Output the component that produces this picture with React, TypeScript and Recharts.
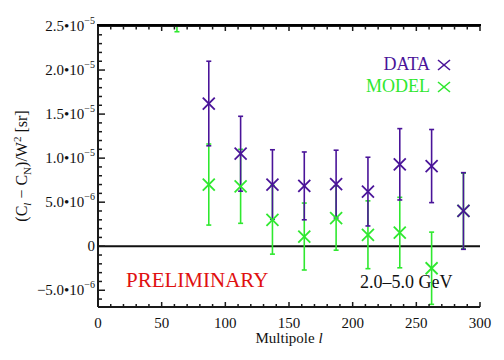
import React from "react";
import {
  ComposedChart,
  Scatter,
  ErrorBar,
  XAxis,
  YAxis,
  ReferenceLine,
  Customized,
} from "recharts";

// Values in units of 1e-6 sr
const DATA_L = [87, 112, 137, 162, 187, 212, 237, 262, 287];
const DATA_VALUES = [16.2, 10.5, 7.0, 6.85, 7.05, 6.2, 9.3, 9.1, 4.0];
const DATA_ERRORS = [4.8, 4.25, 3.95, 3.85, 3.85, 3.9, 4.05, 4.15, 4.35];

const MODEL_L = [62, 87, 112, 137, 162, 187, 212, 237, 262, 287];
const MODEL_VALUES = [29.0, 7.0, 6.8, 3.0, 1.1, 3.2, 1.3, 1.55, -2.5, 4.0];
const MODEL_ERRORS = [4.65, 4.6, 4.2, 3.9, 3.8, 3.65, 3.85, 4.0, 4.1, 4.3];

const X_TICKS = [
  0, 10, 20, 30, 40, 50, 60, 70, 80, 90, 100, 110, 120, 130, 140, 150, 160,
  170, 180, 190, 200, 210, 220, 230, 240, 250, 260, 270, 280, 290, 300,
];
const X_MAJOR = [0, 50, 100, 150, 200, 250, 300];
const X_LABELS = ["0", "50", "100", "150", "200", "250", "300"];

const Y_TICKS = [
  -6, -5, -4, -3, -2, -1, 0, 1, 2, 3, 4, 5, 6, 7, 8, 9, 10, 11, 12, 13, 14,
  15, 16, 17, 18, 19, 20, 21, 22, 23, 24, 25,
];
const Y_MAJOR = [-5, 0, 5, 10, 15, 20, 25];
const Y_MANTISSA = ["\u22125.0", "0", "5.0", "1.0", "1.5", "2.0", "2.5"];
const Y_EXPONENT = ["\u22126", "", "\u22126", "\u22125", "\u22125", "\u22125", "\u22125"];

const DATA_COLOR = "#4a1499";
const MODEL_COLOR = "#2fe82f";
const FONT = "'Liberation Serif', 'Times New Roman', serif";
const AXIS = "#1a1a1a";

const dataRows = DATA_L.map((l, i) => ({ l, v: DATA_VALUES[i], e: DATA_ERRORS[i] }));
const modelRows = MODEL_L.map((l, i) => ({ l, v: MODEL_VALUES[i], e: MODEL_ERRORS[i] }));

const Cross = (color: string) => (props: any) => {
  const { cx, cy } = props;
  if (cx == null || cy == null) return <g />;
  const h = 6;
  return (
    <g>
      <line x1={cx - h} y1={cy - h} x2={cx + h} y2={cy + h} stroke={color} strokeWidth={1.8} />
      <line x1={cx - h} y1={cy + h} x2={cx + h} y2={cy - h} stroke={color} strokeWidth={1.8} />
    </g>
  );
};

const LeftTick = (props: any) => {
  const { x, y, payload } = props;
  const v = payload.value;
  const idx = Y_MAJOR.indexOf(v);
  const major = idx >= 0;
  return (
    <g>
      <line x1={x} x2={x + (major ? 7 : 4)} y1={y} y2={y} stroke={AXIS} strokeWidth={1.5} />
      {major && (
        <text x={x - 3} y={y + 5} textAnchor="end" fontFamily={FONT} fontSize={15} fill="#111">
          {Y_MANTISSA[idx]}
          {Y_EXPONENT[idx] !== "" && "\u202210"}
          {Y_EXPONENT[idx] !== "" && (
            <tspan dy={-7} fontSize={10}>
              {Y_EXPONENT[idx]}
            </tspan>
          )}
        </text>
      )}
    </g>
  );
};

const RightTick = (props: any) => {
  const { x, y, payload } = props;
  const major = Y_MAJOR.indexOf(payload.value) >= 0;
  return <line x1={x} x2={x - (major ? 7 : 4)} y1={y} y2={y} stroke={AXIS} strokeWidth={1.5} />;
};

const BottomTick = (props: any) => {
  const { x, y, payload } = props;
  const idx = X_MAJOR.indexOf(payload.value);
  const major = idx >= 0;
  return (
    <g>
      <line x1={x} x2={x} y1={y} y2={y - (major ? 5 : 3)} stroke={AXIS} strokeWidth={1.5} />
      {major && (
        <text x={x} y={y + 21} textAnchor="middle" fontFamily={FONT} fontSize={15} fill="#111">
          {X_LABELS[idx]}
        </text>
      )}
    </g>
  );
};

const TopTick = (props: any) => {
  const { x, y, payload } = props;
  const major = X_MAJOR.indexOf(payload.value) >= 0;
  return <line x1={x} x2={x} y1={y} y2={y + (major ? 5 : 3.5)} stroke={AXIS} strokeWidth={1.5} />;
};

const Overlay = () => (
  <g fontFamily={FONT}>
    <text x={422} y={62} textAnchor="end" fontSize={18} fill={DATA_COLOR}>
      DATA
    </text>
    <line x1={430} y1={52} x2={442} y2={62} stroke={DATA_COLOR} strokeWidth={1.6} />
    <line x1={430} y1={62} x2={442} y2={52} stroke={DATA_COLOR} strokeWidth={1.6} />
    <text x={422} y={84} textAnchor="end" fontSize={18} fill={MODEL_COLOR}>
      MODEL
    </text>
    <line x1={430} y1={74} x2={442} y2={84} stroke={MODEL_COLOR} strokeWidth={1.6} />
    <line x1={430} y1={84} x2={442} y2={74} stroke={MODEL_COLOR} strokeWidth={1.6} />
    <text x={118} y={279} fontSize={21} fill="#e01010">
      PRELIMINARY
    </text>
    <text x={352} y={280} fontSize={18} fill="#111">
      2.0–5.0 GeV
    </text>
    <text x={281} y={335} textAnchor="middle" fontSize={15} fill="#111">
      Multipole <tspan fontStyle="italic">l</tspan>
    </text>
    <text x={19} y={158} textAnchor="middle" fontSize={16} fill="#111" transform="rotate(-90 19 158)">
      (C<tspan fontSize={11} dy={4} fontStyle="italic">l</tspan>
      <tspan dy={-4}> − C</tspan>
      <tspan fontSize={11} dy={4}>N</tspan>
      <tspan dy={-4}>)/W</tspan>
      <tspan fontSize={11} dy={-6}>2</tspan>
      <tspan dy={6}> [sr]</tspan>
    </text>
  </g>
);

export default function App() {
  return (
    <div style={{ position: "relative", width: 488, height: 344 }}>
      <ComposedChart
        width={488}
        height={344}
        margin={{ top: 0, right: 16, bottom: 0, left: 0 }}
      >
        <XAxis
          xAxisId={0}
          type="number"
          dataKey="l"
          domain={[0, 300]}
          ticks={X_TICKS}
          interval={0}
          allowDataOverflow
          orientation="bottom"
          height={45}
          tickSize={0}
          tickMargin={0}
          tickLine={false}
          tick={<BottomTick />}
          axisLine={{ stroke: AXIS, strokeWidth: 2 }}
        />
        <XAxis
          xAxisId="top"
          type="number"
          dataKey="l"
          domain={[0, 300]}
          ticks={X_TICKS}
          interval={0}
          allowDataOverflow
          orientation="top"
          height={18}
          tickSize={0}
          tickMargin={0}
          tickLine={false}
          tick={<TopTick />}
          axisLine={{ stroke: AXIS, strokeWidth: 2 }}
        />
        <YAxis
          yAxisId={0}
          type="number"
          dataKey="v"
          domain={[-6.9, 25]}
          ticks={Y_TICKS}
          interval={0}
          allowDataOverflow
          orientation="left"
          width={90}
          tickSize={0}
          tickMargin={0}
          tickLine={false}
          tick={<LeftTick />}
          axisLine={{ stroke: AXIS, strokeWidth: 2 }}
        />
        <YAxis
          yAxisId="right"
          type="number"
          domain={[-6.9, 25]}
          ticks={Y_TICKS}
          interval={0}
          allowDataOverflow
          orientation="right"
          width={0}
          tickSize={0}
          tickMargin={0}
          tickLine={false}
          tick={<RightTick />}
          axisLine={{ stroke: AXIS, strokeWidth: 2 }}
        />
        <ReferenceLine y={0} stroke="#111" strokeWidth={2} />
        <Scatter
          name="MODEL"
          data={modelRows}
          dataKey="v"
          fill={MODEL_COLOR}
          shape={Cross(MODEL_COLOR)}
          isAnimationActive={false}
        >
          <ErrorBar dataKey="e" direction="y" width={2.5} stroke={MODEL_COLOR} strokeWidth={1.6} isAnimationActive={false} />
        </Scatter>
        <Scatter
          name="DATA"
          data={dataRows}
          dataKey="v"
          fill={DATA_COLOR}
          shape={Cross(DATA_COLOR)}
          isAnimationActive={false}
        >
          <ErrorBar dataKey="e" direction="y" width={2.5} stroke={DATA_COLOR} strokeWidth={1.6} isAnimationActive={false} />
        </Scatter>
        <Customized component={<Overlay />} />
      </ComposedChart>
      <div
        style={{
          position: "absolute",
          left: 89,
          top: 0,
          width: 384,
          height: 16,
          background: "#fff",
          borderBottom: "2px solid #000",
          boxSizing: "content-box",
        }}
      />
    </div>
  );
}
